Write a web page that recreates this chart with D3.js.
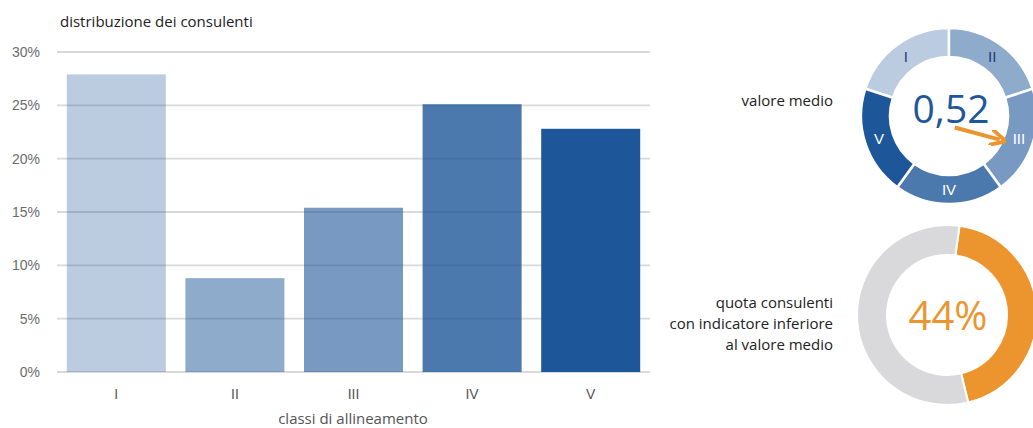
<!DOCTYPE html>
<html>
<head>
<meta charset="utf-8">
<script src="https://cdn.jsdelivr.net/npm/d3@7"></script>
<style>
  html, body { margin: 0; padding: 0; background: #fff; }
  svg { display: block; font-family: "Open Sans", "Noto Sans", sans-serif; }
</style>
</head>
<body>
<svg id="chart" width="1033" height="428"></svg>
<script>
// Alignment classes and share of advisors in each class (%)
const classes = ["I", "II", "III", "IV", "V"];
const shares = [27.9, 8.8, 15.4, 25.1, 22.8];
// one blue, lighter for the lower classes
const baseBlue = "#1e5799";
const classOpacity = [0.3, 0.5, 0.6, 0.8, 1];
const yTicks = [0, 5, 10, 15, 20, 25, 30];

// Ring of the five classes (equal sectors) and the mean indicator
const ringSectors = [20, 20, 20, 20, 20];
const ringLabelColors = ["#1f3d73", "#1f3d73", "#ffffff", "#ffffff", "#ffffff"];
const meanValue = "0,52";

// Share of advisors below the mean
const belowMean = [44, 56];
const belowColors = ["#ec952f", "#d9d9db"];

const deg = Math.PI / 180;
const svg = d3.select("#chart");

// ---------- bar chart ----------
const x = d3.scaleBand().domain(classes).range([57, 650])
  .paddingInner(0.165).paddingOuter(0.0825);
const y = d3.scaleLinear().domain([0, 30]).range([372, 52]);

svg.append("text")
  .attr("x", 60).attr("y", 27)
  .attr("font-size", 15).attr("fill", "#222")
  .text("distribuzione dei consulenti");

// grid lines behind the translucent bars
svg.append("g").selectAll("line").data(yTicks).join("line")
  .attr("x1", 57).attr("x2", 650)
  .attr("y1", d => y(d)).attr("y2", d => y(d))
  .attr("stroke", "#d9d9d9")
  .attr("stroke-width", 1.8);

svg.append("g").selectAll("rect").data(classes).join("rect")
  .attr("x", d => x(d))
  .attr("y", (d, i) => y(shares[i]))
  .attr("width", x.bandwidth())
  .attr("height", (d, i) => y(0) - y(shares[i]))
  .attr("fill", baseBlue)
  .attr("fill-opacity", (d, i) => classOpacity[i]);

svg.append("g").selectAll("text").data(yTicks).join("text")
  .attr("x", 40).attr("y", d => y(d) + 5)
  .attr("text-anchor", "end")
  .attr("font-family", "'Liberation Sans', Arial, sans-serif")
  .attr("font-size", 14).attr("fill", "#6b6b6b")
  .text(d => d + "%");

svg.append("g").selectAll("text").data(classes).join("text")
  .attr("x", d => x(d) + x.bandwidth() / 2).attr("y", 399)
  .attr("text-anchor", "middle")
  .attr("font-family", "'Liberation Sans', Arial, sans-serif")
  .attr("font-size", 14).attr("fill", "#555")
  .text(d => d);

svg.append("text")
  .attr("x", 353).attr("y", 424)
  .attr("text-anchor", "middle")
  .attr("font-size", 15).attr("fill", "#555")
  .text("classi di allineamento");

// ---------- ring of classes with mean value ----------
const c1 = { x: 949, y: 116 };
const ring = svg.append("g").attr("transform", `translate(${c1.x},${c1.y})`);
const pie = d3.pie().sort(null).value(d => d)
  .startAngle(-72 * deg).endAngle(288 * deg);
const arc1 = d3.arc().innerRadius(59).outerRadius(88);
const ringArcs = pie(ringSectors);

ring.selectAll("path").data(ringArcs).join("path")
  .attr("d", arc1)
  .attr("fill", baseBlue)
  .attr("fill-opacity", (d, i) => classOpacity[i])
  .attr("stroke", "#fff").attr("stroke-width", 2.5);

ring.selectAll("text.cls").data(ringArcs).join("text")
  .attr("class", "cls")
  .attr("transform", d => `translate(${arc1.centroid(d)})`)
  .attr("dy", "0.36em")
  .attr("text-anchor", "middle")
  .attr("font-family", "'Liberation Sans', Arial, sans-serif")
  .attr("font-size", 15)
  .attr("fill", (d, i) => ringLabelColors[i])
  .text((d, i) => classes[i]);

ring.append("text")
  .attr("x", 2).attr("y", 7)
  .attr("text-anchor", "middle")
  .attr("font-size", 39).attr("font-weight", 500).attr("fill", baseBlue)
  .text(meanValue);

// arrow pointing at the class containing the mean
const defs = svg.append("defs");
defs.append("marker")
  .attr("id", "head").attr("viewBox", "0 0 10 10")
  .attr("refX", 6).attr("refY", 5)
  .attr("markerWidth", 4).attr("markerHeight", 4)
  .attr("orient", "auto")
  .append("path").attr("d", "M0,0 L10,5 L0,10")
  .attr("fill", "none").attr("stroke", "#ec952f").attr("stroke-width", 2.4);

const arrowAngle = 115 * deg;
ring.append("line")
  .attr("x1", 13 * Math.sin(arrowAngle) - 6).attr("y1", -13 * Math.cos(arrowAngle) + 6)
  .attr("x2", 56 * Math.sin(arrowAngle)).attr("y2", -56 * Math.cos(arrowAngle))
  .attr("stroke", "#ec952f").attr("stroke-width", 4)
  .attr("marker-end", "url(#head)");

svg.append("text")
  .attr("x", 833).attr("y", 106)
  .attr("text-anchor", "end")
  .attr("font-size", 15).attr("fill", "#222")
  .text("valore medio");

// ---------- share below the mean ----------
const c2 = { x: 947, y: 315 };
const donut = svg.append("g").attr("transform", `translate(${c2.x},${c2.y})`);
const pie2 = d3.pie().sort(null).value(d => d)
  .startAngle(8 * deg).endAngle(8 * deg + 2 * Math.PI);
const arc2 = d3.arc().innerRadius(60).outerRadius(90);

donut.selectAll("path").data(pie2(belowMean)).join("path")
  .attr("d", arc2)
  .attr("fill", (d, i) => belowColors[i])
  .attr("stroke", "#fff").attr("stroke-width", 2);

donut.append("text")
  .attr("x", 1).attr("y", 15)
  .attr("text-anchor", "middle")
  .attr("font-size", 40).attr("font-weight", 400).attr("fill", "#ec952f")
  .text(belowMean[0] + "%");

svg.append("text")
  .attr("text-anchor", "end")
  .attr("font-size", 15).attr("fill", "#222")
  .selectAll("tspan")
  .data(["quota consulenti", "con indicatore inferiore", "al valore medio"])
  .join("tspan")
  .attr("x", 833).attr("y", (d, i) => 308 + i * 21)
  .text(d => d);
</script>
</body>
</html>
